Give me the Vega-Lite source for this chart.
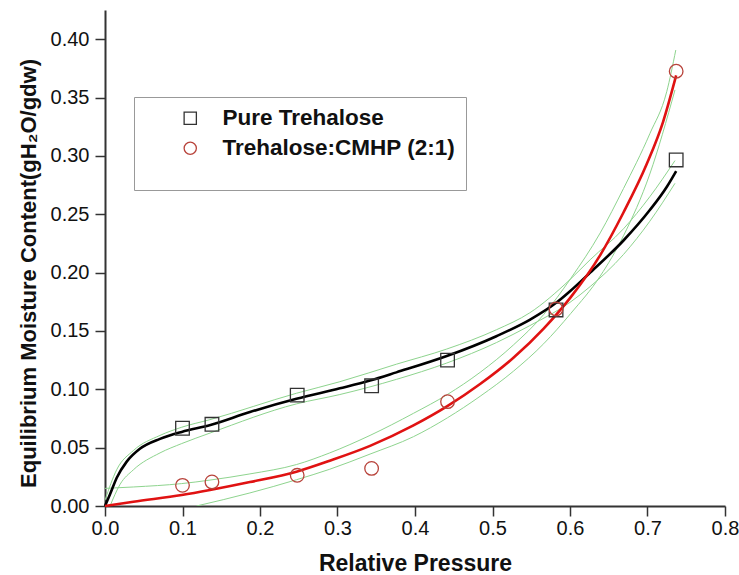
{
  "$schema": "https://vega.github.io/schema/vega-lite/v6.json",
  "width": 620,
  "height": 496,
  "autosize": "none",
  "padding": {"left": 105, "top": 10, "right": 14, "bottom": 69},
  "background": "white",
  "config": {
    "view": {"stroke": null},
    "font": "Liberation Sans",
    "axis": {
      "grid": false,
      "domainColor": "#333333",
      "domainWidth": 2,
      "tickColor": "#333333",
      "tickWidth": 1.5,
      "labelFontSize": 20,
      "labelColor": "#111111",
      "titleFontSize": 22,
      "titleFontWeight": "bold",
      "titleColor": "#111111",
      "labelOverlap": false,
      "labelFlush": false
    }
  },
  "datasets": {
    "points": [
      {"series": "Pure Trehalose", "x": 0.1, "y": 0.0666},
      {"series": "Pure Trehalose", "x": 0.138, "y": 0.070},
      {"series": "Pure Trehalose", "x": 0.248, "y": 0.095},
      {"series": "Pure Trehalose", "x": 0.344, "y": 0.103},
      {"series": "Pure Trehalose", "x": 0.442, "y": 0.125},
      {"series": "Pure Trehalose", "x": 0.582, "y": 0.168},
      {"series": "Pure Trehalose", "x": 0.737, "y": 0.2965},
      {"series": "Trehalose:CMHP (2:1)", "x": 0.1, "y": 0.0177},
      {"series": "Trehalose:CMHP (2:1)", "x": 0.138, "y": 0.0206},
      {"series": "Trehalose:CMHP (2:1)", "x": 0.248, "y": 0.0263},
      {"series": "Trehalose:CMHP (2:1)", "x": 0.344, "y": 0.0322},
      {"series": "Trehalose:CMHP (2:1)", "x": 0.442, "y": 0.0894},
      {"series": "Trehalose:CMHP (2:1)", "x": 0.582, "y": 0.1688},
      {"series": "Trehalose:CMHP (2:1)", "x": 0.737, "y": 0.3725}
    ],
    "fits": [
      {"series": "Pure Trehalose", "x": 0, "y": 0},
      {"series": "Pure Trehalose", "x": 0.0065, "y": 0.010},
      {"series": "Pure Trehalose", "x": 0.015, "y": 0.024},
      {"series": "Pure Trehalose", "x": 0.028, "y": 0.038},
      {"series": "Pure Trehalose", "x": 0.045, "y": 0.049},
      {"series": "Pure Trehalose", "x": 0.071, "y": 0.0575},
      {"series": "Pure Trehalose", "x": 0.099, "y": 0.0635},
      {"series": "Pure Trehalose", "x": 0.136, "y": 0.0694},
      {"series": "Pure Trehalose", "x": 0.187, "y": 0.0805},
      {"series": "Pure Trehalose", "x": 0.247, "y": 0.0918},
      {"series": "Pure Trehalose", "x": 0.303, "y": 0.1008},
      {"series": "Pure Trehalose", "x": 0.342, "y": 0.1075},
      {"series": "Pure Trehalose", "x": 0.376, "y": 0.1145},
      {"series": "Pure Trehalose", "x": 0.441, "y": 0.1285},
      {"series": "Pure Trehalose", "x": 0.505, "y": 0.1455},
      {"series": "Pure Trehalose", "x": 0.548, "y": 0.1595},
      {"series": "Pure Trehalose", "x": 0.583, "y": 0.1745},
      {"series": "Pure Trehalose", "x": 0.600, "y": 0.184},
      {"series": "Pure Trehalose", "x": 0.626, "y": 0.2},
      {"series": "Pure Trehalose", "x": 0.669, "y": 0.2275},
      {"series": "Pure Trehalose", "x": 0.703, "y": 0.2536},
      {"series": "Pure Trehalose", "x": 0.725, "y": 0.2736},
      {"series": "Pure Trehalose", "x": 0.737, "y": 0.287},
      {"series": "Trehalose:CMHP (2:1)", "x": 0, "y": 0},
      {"series": "Trehalose:CMHP (2:1)", "x": 0.0366, "y": 0.0037},
      {"series": "Trehalose:CMHP (2:1)", "x": 0.099, "y": 0.0094},
      {"series": "Trehalose:CMHP (2:1)", "x": 0.1355, "y": 0.0137},
      {"series": "Trehalose:CMHP (2:1)", "x": 0.187, "y": 0.0205},
      {"series": "Trehalose:CMHP (2:1)", "x": 0.247, "y": 0.0294},
      {"series": "Trehalose:CMHP (2:1)", "x": 0.29, "y": 0.0388},
      {"series": "Trehalose:CMHP (2:1)", "x": 0.342, "y": 0.0515},
      {"series": "Trehalose:CMHP (2:1)", "x": 0.398, "y": 0.069},
      {"series": "Trehalose:CMHP (2:1)", "x": 0.4417, "y": 0.0855},
      {"series": "Trehalose:CMHP (2:1)", "x": 0.484, "y": 0.1045},
      {"series": "Trehalose:CMHP (2:1)", "x": 0.527, "y": 0.127},
      {"series": "Trehalose:CMHP (2:1)", "x": 0.566, "y": 0.152},
      {"series": "Trehalose:CMHP (2:1)", "x": 0.601, "y": 0.179},
      {"series": "Trehalose:CMHP (2:1)", "x": 0.639, "y": 0.215},
      {"series": "Trehalose:CMHP (2:1)", "x": 0.669, "y": 0.2515},
      {"series": "Trehalose:CMHP (2:1)", "x": 0.699, "y": 0.293},
      {"series": "Trehalose:CMHP (2:1)", "x": 0.720, "y": 0.329},
      {"series": "Trehalose:CMHP (2:1)", "x": 0.737, "y": 0.369}
    ],
    "bands": [
      {"band": "PT upper", "x": 0, "y": 0.005},
      {"band": "PT upper", "x": 0.015, "y": 0.031},
      {"band": "PT upper", "x": 0.0366, "y": 0.0475},
      {"band": "PT upper", "x": 0.071, "y": 0.0605},
      {"band": "PT upper", "x": 0.099, "y": 0.0675},
      {"band": "PT upper", "x": 0.1355, "y": 0.074},
      {"band": "PT upper", "x": 0.247, "y": 0.0966},
      {"band": "PT upper", "x": 0.303, "y": 0.1065},
      {"band": "PT upper", "x": 0.376, "y": 0.1215},
      {"band": "PT upper", "x": 0.441, "y": 0.1345},
      {"band": "PT upper", "x": 0.505, "y": 0.151},
      {"band": "PT upper", "x": 0.548, "y": 0.1655},
      {"band": "PT upper", "x": 0.6, "y": 0.194},
      {"band": "PT upper", "x": 0.626, "y": 0.211},
      {"band": "PT upper", "x": 0.669, "y": 0.2375},
      {"band": "PT upper", "x": 0.703, "y": 0.265},
      {"band": "PT upper", "x": 0.7355, "y": 0.296},
      {"band": "PT lower", "x": 0.0065, "y": 0},
      {"band": "PT lower", "x": 0.0194, "y": 0.0185},
      {"band": "PT lower", "x": 0.0366, "y": 0.031},
      {"band": "PT lower", "x": 0.071, "y": 0.0455},
      {"band": "PT lower", "x": 0.099, "y": 0.0535},
      {"band": "PT lower", "x": 0.1355, "y": 0.0625},
      {"band": "PT lower", "x": 0.247, "y": 0.0875},
      {"band": "PT lower", "x": 0.303, "y": 0.0955},
      {"band": "PT lower", "x": 0.376, "y": 0.1085},
      {"band": "PT lower", "x": 0.441, "y": 0.1225},
      {"band": "PT lower", "x": 0.505, "y": 0.140},
      {"band": "PT lower", "x": 0.548, "y": 0.1545},
      {"band": "PT lower", "x": 0.6, "y": 0.1745},
      {"band": "PT lower", "x": 0.626, "y": 0.188},
      {"band": "PT lower", "x": 0.669, "y": 0.2155},
      {"band": "PT lower", "x": 0.703, "y": 0.244},
      {"band": "PT lower", "x": 0.7355, "y": 0.2765},
      {"band": "TC upper", "x": 0, "y": 0.0151},
      {"band": "TC upper", "x": 0.0366, "y": 0.0163},
      {"band": "TC upper", "x": 0.099, "y": 0.0192},
      {"band": "TC upper", "x": 0.1355, "y": 0.0222},
      {"band": "TC upper", "x": 0.187, "y": 0.0275},
      {"band": "TC upper", "x": 0.247, "y": 0.0355},
      {"band": "TC upper", "x": 0.29, "y": 0.0455},
      {"band": "TC upper", "x": 0.342, "y": 0.0605},
      {"band": "TC upper", "x": 0.398, "y": 0.0794},
      {"band": "TC upper", "x": 0.4417, "y": 0.0955},
      {"band": "TC upper", "x": 0.484, "y": 0.1145},
      {"band": "TC upper", "x": 0.527, "y": 0.138},
      {"band": "TC upper", "x": 0.566, "y": 0.164},
      {"band": "TC upper", "x": 0.601, "y": 0.195},
      {"band": "TC upper", "x": 0.639, "y": 0.234},
      {"band": "TC upper", "x": 0.669, "y": 0.272},
      {"band": "TC upper", "x": 0.703, "y": 0.319},
      {"band": "TC upper", "x": 0.7248, "y": 0.355},
      {"band": "TC upper", "x": 0.7365, "y": 0.3907},
      {"band": "TC lower", "x": 0.118, "y": 0},
      {"band": "TC lower", "x": 0.187, "y": 0.0112},
      {"band": "TC lower", "x": 0.247, "y": 0.0225},
      {"band": "TC lower", "x": 0.29, "y": 0.0315},
      {"band": "TC lower", "x": 0.342, "y": 0.0445},
      {"band": "TC lower", "x": 0.398, "y": 0.0594},
      {"band": "TC lower", "x": 0.4417, "y": 0.0755},
      {"band": "TC lower", "x": 0.484, "y": 0.094},
      {"band": "TC lower", "x": 0.527, "y": 0.1155},
      {"band": "TC lower", "x": 0.566, "y": 0.139},
      {"band": "TC lower", "x": 0.601, "y": 0.165},
      {"band": "TC lower", "x": 0.639, "y": 0.197},
      {"band": "TC lower", "x": 0.669, "y": 0.2315},
      {"band": "TC lower", "x": 0.703, "y": 0.2845},
      {"band": "TC lower", "x": 0.7355, "y": 0.3565}
    ]
  },
  "layer": [
    {
      "data": {"name": "bands"},
      "mark": {"type": "line", "interpolate": "monotone", "strokeWidth": 1, "color": "#8ed48e", "clip": true},
      "encoding": {
        "x": {
          "field": "x", "type": "quantitative",
          "scale": {"domain": [0, 0.8], "nice": false, "zero": false},
          "axis": {
            "values": [0, 0.05, 0.1, 0.15, 0.2, 0.25, 0.3, 0.35, 0.4, 0.45, 0.5, 0.55, 0.6, 0.65, 0.7, 0.75, 0.8],
            "labelExpr": "round(datum.value*100) % 10 === 0 ? format(datum.value, '.1f') : ''",
            "tickSize": {"condition": {"test": "round(datum.value*100) % 10 !== 0", "value": 5}, "value": 10},
            "labelPadding": 2,
            "titlePadding": 14,
            "titleFontSize": 23,
            "title": "Relative Pressure"
          }
        },
        "y": {
          "field": "y", "type": "quantitative",
          "scale": {"domain": [0, 0.425], "nice": false, "zero": false},
          "axis": {
            "values": [0, 0.025, 0.05, 0.075, 0.1, 0.125, 0.15, 0.175, 0.2, 0.225, 0.25, 0.275, 0.3, 0.325, 0.35, 0.375, 0.4],
            "labelExpr": "round(datum.value*1000) % 50 === 0 ? format(datum.value, '.2f') : ''",
            "tickSize": {"condition": {"test": "round(datum.value*1000) % 50 !== 0", "value": 5}, "value": 10},
            "labelPadding": 6,
            "titlePadding": 10,
            "titleY": 263,
            "title": "Equilibrium Moisture Content(gH₂O/gdw)"
          }
        },
        "detail": {"field": "band", "type": "nominal"}
      }
    },
    {
      "data": {"name": "fits"},
      "transform": [{"filter": "datum.series === 'Pure Trehalose'"}],
      "mark": {"type": "line", "interpolate": "monotone", "strokeWidth": 2.6, "color": "#000000"},
      "encoding": {
        "x": {"field": "x", "type": "quantitative"},
        "y": {"field": "y", "type": "quantitative"}
      }
    },
    {
      "data": {"name": "fits"},
      "transform": [{"filter": "datum.series !== 'Pure Trehalose'"}],
      "mark": {"type": "line", "interpolate": "monotone", "strokeWidth": 2.6, "color": "#e01212"},
      "encoding": {
        "x": {"field": "x", "type": "quantitative"},
        "y": {"field": "y", "type": "quantitative"}
      }
    },
    {
      "data": {"name": "points"},
      "mark": {"type": "point", "filled": false, "strokeWidth": 1.3, "size": 185, "opacity": 1},
      "encoding": {
        "x": {"field": "x", "type": "quantitative"},
        "y": {"field": "y", "type": "quantitative"},
        "shape": {
          "field": "series", "type": "nominal",
          "scale": {"domain": ["Pure Trehalose", "Trehalose:CMHP (2:1)"], "range": ["square", "circle"]},
          "legend": {
            "title": "\u00a0\u00a0\u00a0\u00a0\u00a0\u00a0\u00a0\u00a0\u00a0\u00a0\u00a0\u00a0\u00a0\u00a0\u00a0\u00a0\u00a0\u00a0\u00a0\u00a0\u00a0\u00a0\u00a0\u00a0\u00a0\u00a0\u00a0\u00a0\u00a0\u00a0\u00a0\u00a0\u00a0\u00a0\u00a0\u00a0\u00a0\u00a0\u00a0\u00a0\u00a0\u00a0\u00a0\u00a0\u00a0\u00a0\u00a0\u00a0\u00a0\u00a0\u00a0\u00a0\u00a0\u00a0\u00a0\u00a0\u00a0\u00a0\u00a0\u00a0\u00a0\u00a0\u00a0\u00a0\u00a0\u00a0\u00a0\u00a0\u00a0\u00a0\u00a0\u00a0\u00a0\u00a0",
            "orient": "none",
            "legendX": 29,
            "legendY": 87,
            "strokeColor": "#999999",
            "fillColor": "white",
            "padding": 10,
            "symbolOffset": 35,
            "labelFontSize": 22.5,
            "labelFontWeight": "bold",
            "labelColor": "#111111",
            "labelOffset": 21,
            "labelLimit": 400,
            "rowPadding": 7,
            "symbolSize": 150,
            "symbolStrokeWidth": 1.3,
            "titleOrient": "bottom",
            "titleFontSize": 16,
            "titleLimit": 500,
            "titlePadding": 4
          }
        },
        "stroke": {
          "field": "series", "type": "nominal",
          "scale": {"domain": ["Pure Trehalose", "Trehalose:CMHP (2:1)"], "range": ["#333333", "#b8433b"]},
          "legend": {
            "title": "\u00a0\u00a0\u00a0\u00a0\u00a0\u00a0\u00a0\u00a0\u00a0\u00a0\u00a0\u00a0\u00a0\u00a0\u00a0\u00a0\u00a0\u00a0\u00a0\u00a0\u00a0\u00a0\u00a0\u00a0\u00a0\u00a0\u00a0\u00a0\u00a0\u00a0\u00a0\u00a0\u00a0\u00a0\u00a0\u00a0\u00a0\u00a0\u00a0\u00a0\u00a0\u00a0\u00a0\u00a0\u00a0\u00a0\u00a0\u00a0\u00a0\u00a0\u00a0\u00a0\u00a0\u00a0\u00a0\u00a0\u00a0\u00a0\u00a0\u00a0\u00a0\u00a0\u00a0\u00a0\u00a0\u00a0\u00a0\u00a0\u00a0\u00a0\u00a0\u00a0\u00a0\u00a0",
            "orient": "none",
            "legendX": 29,
            "legendY": 87,
            "strokeColor": "#999999",
            "fillColor": "white",
            "padding": 10,
            "symbolOffset": 35,
            "labelFontSize": 22.5,
            "labelFontWeight": "bold",
            "labelColor": "#111111",
            "labelOffset": 21,
            "labelLimit": 400,
            "rowPadding": 7,
            "symbolSize": 150,
            "symbolStrokeWidth": 1.3,
            "titleOrient": "bottom",
            "titleFontSize": 16,
            "titleLimit": 500,
            "titlePadding": 4
          }
        }
      }
    }
  ]
}
